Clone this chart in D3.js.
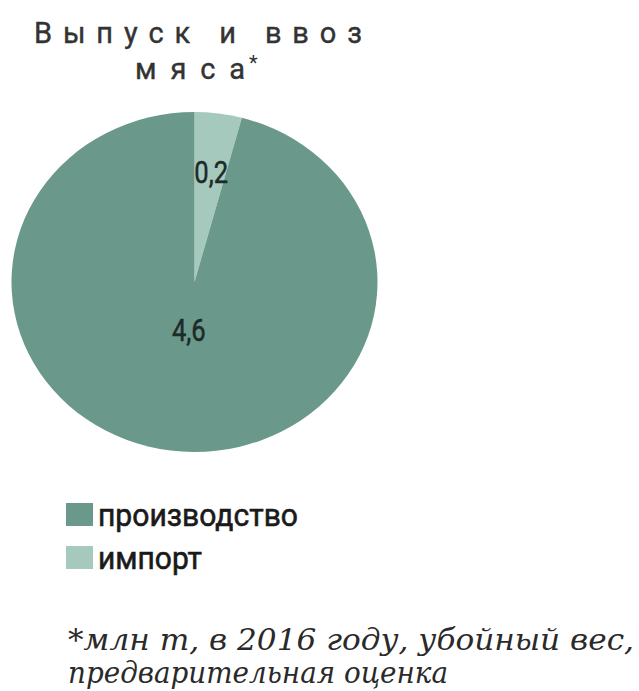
<!DOCTYPE html>
<html><head><meta charset="utf-8">
<script src="https://cdn.jsdelivr.net/npm/d3@7"></script>
<style>html,body{margin:0;padding:0;background:#fff;}svg{display:block;}</style>
</head><body>
<script>
const categories = ["производство", "импорт"];
const values = [4.6, 0.2];
const valueLabels = ["4,6", "0,2"];
const colors = ["#6a998b", "#a6c9bd"];
const titleLines = ["Выпуск и ввоз", "мяса"];
const footnoteLines = ["*млн т, в 2016 году, убойный вес,", "предварительная оценка"];

const W = 639, H = 691;
const svg = d3.select("body").append("svg").attr("width", W).attr("height", H);

// Title
const titleStyle = sel => sel.style("font-family", "Roboto, 'DejaVu Sans', sans-serif")
  .style("font-size", "29px").style("fill", "#333")
  .style("stroke", "#333").style("stroke-width", "0.4px");
svg.append("text").attr("x", 34).attr("y", 43)
  .attr("textLength", 328).attr("lengthAdjust", "spacing")
  .call(titleStyle).text(titleLines[0]);
svg.append("text").attr("x", 135).attr("y", 79)
  .attr("textLength", 110).attr("lengthAdjust", "spacing")
  .call(titleStyle).text(titleLines[1]);
svg.append("text").attr("x", 249).attr("y", 70)
  .style("font-family", "Roboto, sans-serif").style("font-size", "20px").style("fill", "#333").text("*");

// Pie (slightly elliptical)
const cx = 194.5, cy = 282, rx = 183, ry = 170;
const data = categories.map((c, i) => ({cat: c, value: values[i], label: valueLabels[i], color: colors[i]}));
const order = [data[1], data[0]];
const pie = d3.pie().sort(null).value(d => d.value).startAngle(0).endAngle(2 * Math.PI);
const arcs = pie(order);
const arc = d3.arc().innerRadius(0).outerRadius(ry);
const g = svg.append("g").attr("transform", `translate(${cx},${cy}) scale(${rx / ry},1)`);
g.selectAll("path").data(arcs).join("path")
  .attr("d", arc).attr("fill", d => d.data.color);

const frac = {"импорт": 0.66, "производство": 0.28};
svg.selectAll("text.val").data(arcs).join("text").attr("class", "val")
  .attr("transform", d => {
    const a = (d.startAngle + d.endAngle) / 2;
    const f = frac[d.data.cat];
    const x = cx + rx * f * Math.sin(a) + 1;
    const y = cy - ry * f * Math.cos(a) + 12;
    return `translate(${x},${y}) scale(0.8,1)`;
  })
  .attr("text-anchor", "middle")
  .style("font-family", "Roboto, sans-serif").style("font-size", "32px")
  .style("fill", "#1c2b27").style("stroke", "#1c2b27").style("stroke-width", "0.5px")
  .text(d => d.data.label);

// Legend
const leg = svg.append("g");
const legY = [503, 546];
data.forEach((d, i) => {
  leg.append("rect").attr("x", 66).attr("y", legY[i]).attr("width", 27).attr("height", 23).attr("fill", d.color);
  leg.append("text").attr("x", 98).attr("y", legY[i] + 23)
    .attr("textLength", i === 0 ? 200 : 104).attr("lengthAdjust", "spacingAndGlyphs")
    .style("font-family", "Roboto, sans-serif").style("font-size", "31px")
    .style("fill", "#1a1a1a").style("stroke", "#1a1a1a").style("stroke-width", "0.6px")
    .text(d.cat);
});

// Footnote
const footStyle = sel => sel.style("font-family", "'DejaVu Serif', serif").style("font-style", "italic")
  .style("font-size", "29px").style("fill", "#2a2a2a");
svg.append("text").attr("x", 68).attr("y", 650)
  .attr("textLength", 566).attr("lengthAdjust", "spacingAndGlyphs")
  .call(footStyle).text(footnoteLines[0]);
svg.append("text").attr("x", 68).attr("y", 683)
  .attr("textLength", 380).attr("lengthAdjust", "spacingAndGlyphs")
  .call(footStyle).text(footnoteLines[1]);
</script>
</body></html>
